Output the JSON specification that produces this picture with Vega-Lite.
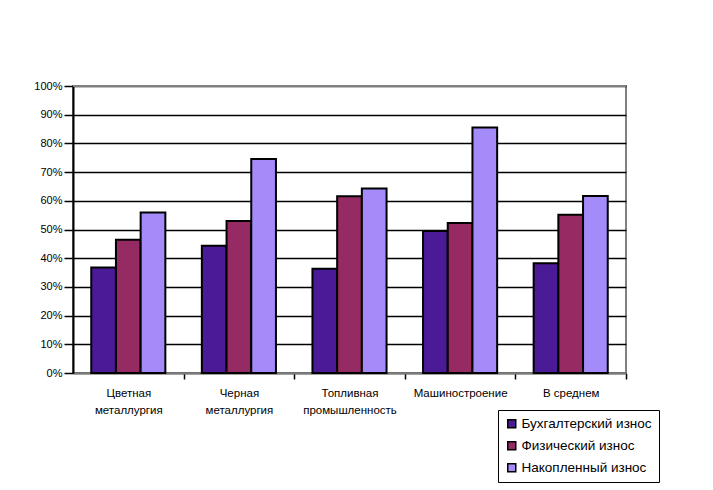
{
  "$schema": "https://vega.github.io/schema/vega-lite/v6.json",
  "width": 553,
  "height": 287,
  "autosize": "none",
  "padding": {"left": 73, "top": 86, "right": 87, "bottom": 117},
  "background": "white",
  "config": {
    "font": "Liberation Sans",
    "view": {"stroke": "#808080", "strokeWidth": 2},
    "axis": {"labelColor": "black", "labelFont": "Liberation Sans", "titleFont": "Liberation Sans"}
  },
  "data": {
    "values": [
      {"cat": "Цветная|металлургия", "series": "Бухгалтерский износ", "v": 0.368},
      {"cat": "Цветная|металлургия", "series": "Физический износ", "v": 0.464},
      {"cat": "Цветная|металлургия", "series": "Накопленный износ", "v": 0.559},
      {"cat": "Черная|металлургия", "series": "Бухгалтерский износ", "v": 0.443},
      {"cat": "Черная|металлургия", "series": "Физический износ", "v": 0.530},
      {"cat": "Черная|металлургия", "series": "Накопленный износ", "v": 0.746},
      {"cat": "Топливная|промышленность", "series": "Бухгалтерский износ", "v": 0.363},
      {"cat": "Топливная|промышленность", "series": "Физический износ", "v": 0.616},
      {"cat": "Топливная|промышленность", "series": "Накопленный износ", "v": 0.643},
      {"cat": "Машиностроение", "series": "Бухгалтерский износ", "v": 0.495},
      {"cat": "Машиностроение", "series": "Физический износ", "v": 0.523},
      {"cat": "Машиностроение", "series": "Накопленный износ", "v": 0.855},
      {"cat": "В среднем", "series": "Бухгалтерский износ", "v": 0.382},
      {"cat": "В среднем", "series": "Физический износ", "v": 0.551},
      {"cat": "В среднем", "series": "Накопленный износ", "v": 0.617}
    ]
  },
  "layer": [
    {
      "mark": {"type": "bar", "stroke": "black", "strokeWidth": 2},
      "encoding": {
        "x": {
          "field": "cat",
          "type": "nominal",
          "sort": null,
          "scale": {"paddingInner": 0.33, "paddingOuter": 0.165},
          "axis": {
            "title": null,
            "labelAngle": 0,
            "labelExpr": "split(datum.label, '|')",
            "labelFontSize": 11.5,
            "labelLineHeight": 17,
            "labelPadding": 8,
            "tickOffset": 55.3,
            "labelOffset": -55.3,
            "tickSize": 6,
            "tickColor": "black",
            "tickWidth": 1.5,
            "domainColor": "#808080",
            "domainWidth": 2,
            "labelLimit": 200
          }
        },
        "xOffset": {
          "field": "series",
          "type": "nominal",
          "sort": ["Бухгалтерский износ", "Физический износ", "Накопленный износ"]
        },
        "y": {
          "field": "v",
          "type": "quantitative",
          "scale": {"domain": [0, 1]},
          "axis": {
            "title": null,
            "format": ".0%",
            "values": [0, 0.1, 0.2, 0.3, 0.4, 0.5, 0.6, 0.7, 0.8, 0.9, 1],
            "labelFontSize": 11,
            "labelPadding": 2,
            "tickSize": 9,
            "tickColor": "black",
            "tickWidth": 1.5,
            "domainColor": "black",
            "domainWidth": 2,
            "grid": true,
            "gridColor": "black",
            "gridWidth": 1.5
          }
        },
        "color": {
          "field": "series",
          "type": "nominal",
          "scale": {
            "domain": ["Бухгалтерский износ", "Физический износ", "Накопленный износ"],
            "range": ["#4B1A96", "#962A62", "#A58BF9"]
          },
          "legend": {
            "title": null,
            "orient": "none",
            "legendX": 425,
            "legendY": 324,
            "symbolType": "square",
            "symbolSize": 64,
            "symbolStrokeColor": "black",
            "labelFontSize": 13.5,
            "labelColor": "black",
            "rowPadding": 7,
            "padding": 7,
            "strokeColor": "black",
            "fillColor": "white",
            "labelOffset": 3
          }
        }
      }
    },
    {
      "mark": {"type": "rule", "color": "#808080", "strokeWidth": 2},
      "encoding": {
        "y": {
          "datum": 1,
          "type": "quantitative",
          "axis": {
            "title": null,
            "format": ".0%",
            "values": [0, 0.1, 0.2, 0.3, 0.4, 0.5, 0.6, 0.7, 0.8, 0.9, 1],
            "labelFontSize": 11,
            "labelPadding": 2,
            "tickSize": 9,
            "tickColor": "black",
            "tickWidth": 1.5,
            "domainColor": "black",
            "domainWidth": 2,
            "grid": true,
            "gridColor": "black",
            "gridWidth": 1.5
          }
        }
      }
    }
  ]
}
